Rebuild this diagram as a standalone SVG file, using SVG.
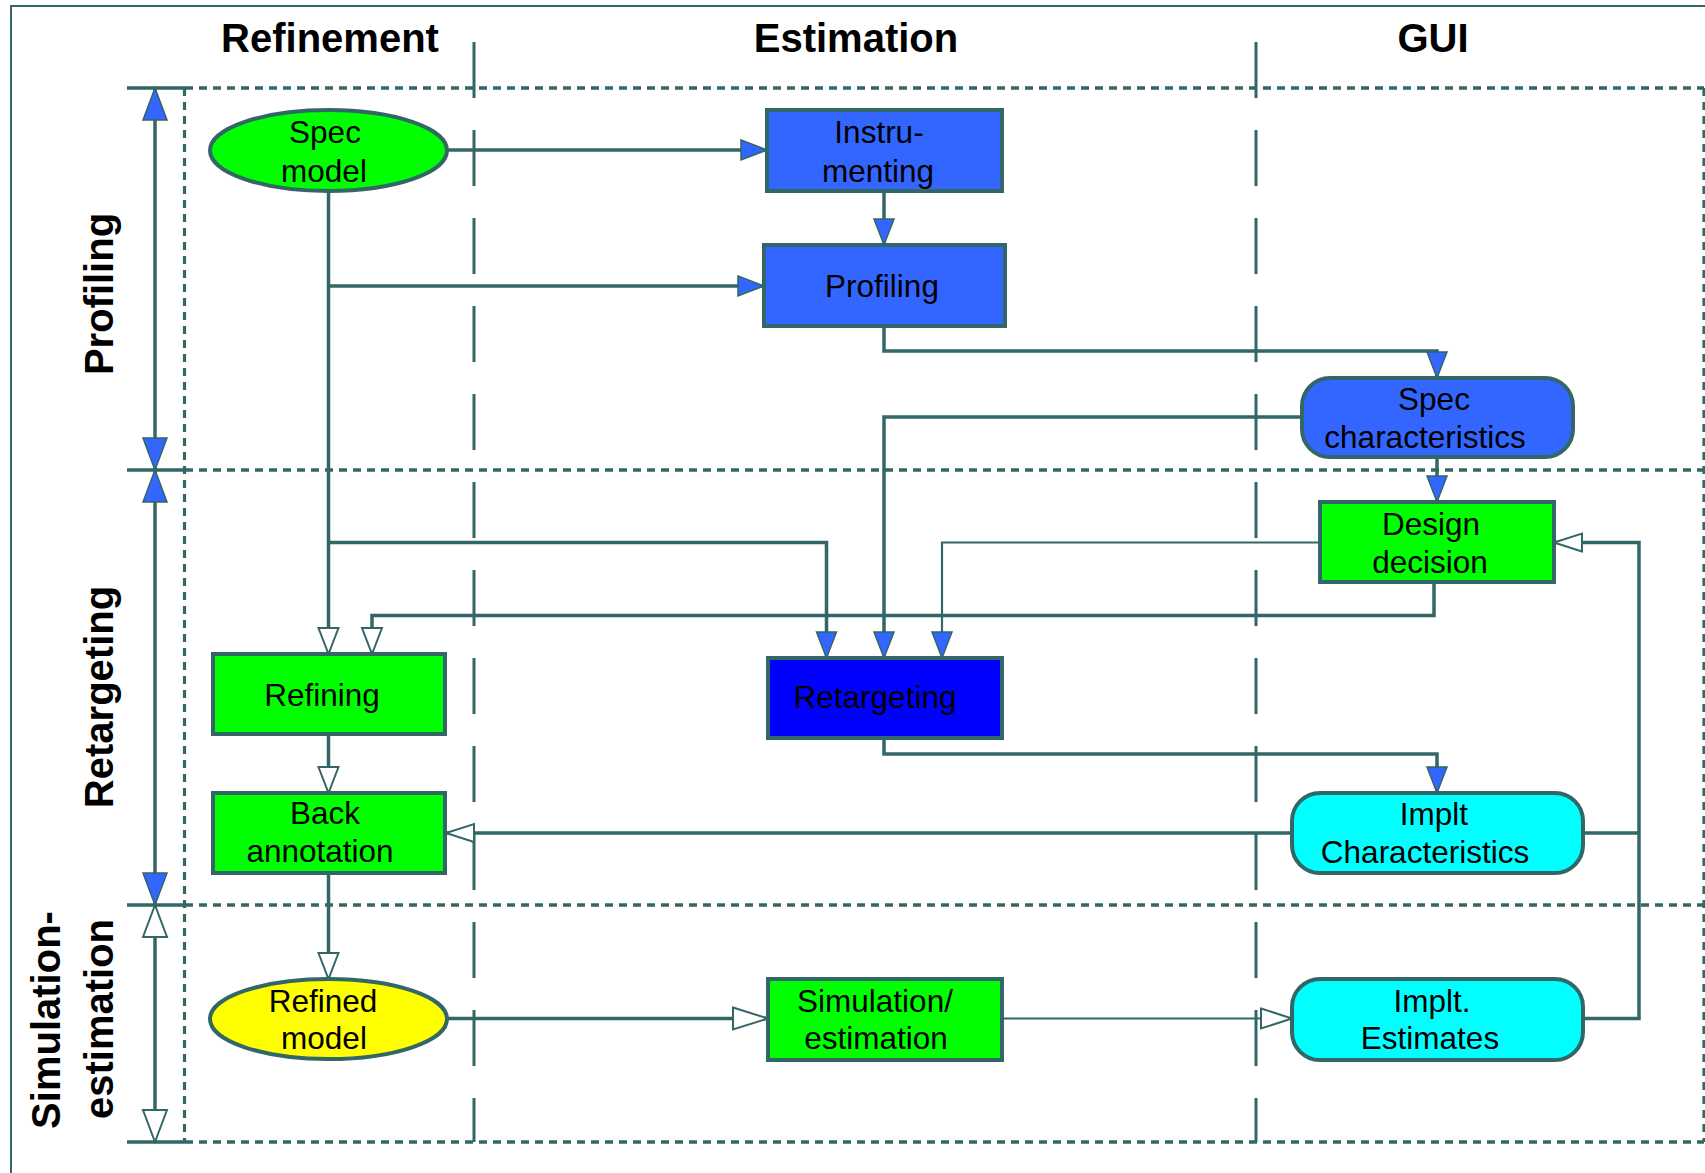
<svg xmlns="http://www.w3.org/2000/svg" width="1705" height="1173" viewBox="0 0 1705 1173">
<style>
.frame{fill:none;stroke:#336666;stroke-width:2}
.div{fill:none;stroke:#336666;stroke-width:3;stroke-dasharray:56 32}
.dot{fill:none;stroke:#336666;stroke-width:3.5;stroke-dasharray:8 6}
.dotv{fill:none;stroke:#336666;stroke-width:3.2;stroke-dasharray:8 6}
.tick{fill:none;stroke:#336666;stroke-width:3.5}
.hdr{font-family:"Liberation Sans",Arial,sans-serif;font-weight:bold;font-size:40px;fill:#000;text-anchor:middle}
.lbl{font-family:"Liberation Sans",Arial,sans-serif;font-size:31.5px;fill:#000;text-anchor:middle}
.node{stroke:#336666;stroke-width:4}
.blue{fill:#3366ff}.green{fill:#00ff00}.dblue{fill:#0000ff}.cyan{fill:#00ffff}.yellow{fill:#ffff00}
.c{fill:none;stroke:#336666;stroke-width:3.5}
.thin{fill:none;stroke:#336666;stroke-width:2.2}
.fa{fill:#3366ff;stroke:#336666;stroke-width:1.5}
.ha{fill:#ffffff;stroke:#336666;stroke-width:2}
</style>
<defs>
<marker id="mf" markerUnits="userSpaceOnUse" viewBox="-1 -1 28 22" refX="26" refY="10" markerWidth="28" markerHeight="22" orient="auto" overflow="visible"><path class="fa" d="M0,0 L26,10 L0,20 Z"/></marker>
<marker id="mh" markerUnits="userSpaceOnUse" viewBox="-1 -1 28 22" refX="26" refY="10" markerWidth="28" markerHeight="22" orient="auto" overflow="visible"><path class="ha" d="M0,0 L26,10 L0,20 Z"/></marker>
<marker id="mhs" markerUnits="userSpaceOnUse" viewBox="-1 -1 30 20" refX="28" refY="9" markerWidth="30" markerHeight="20" orient="auto" overflow="visible"><path class="ha" d="M0,0 L28,9 L0,18 Z"/></marker>
<marker id="mhl" markerUnits="userSpaceOnUse" viewBox="-1 -1 37 24" refX="35" refY="11" markerWidth="37" markerHeight="24" orient="auto" overflow="visible"><path class="ha" d="M0,0 L35,11 L0,22 Z"/></marker>
<marker id="mhm" markerUnits="userSpaceOnUse" viewBox="-1 -1 33 22" refX="31" refY="10" markerWidth="33" markerHeight="22" orient="auto" overflow="visible"><path class="ha" d="M0,0 L31,10 L0,20 Z"/></marker>
<marker id="vf" markerUnits="userSpaceOnUse" viewBox="-1 -1 34 26" refX="32" refY="12" markerWidth="34" markerHeight="26" orient="auto" overflow="visible"><path class="fa" d="M0,0 L32,12 L0,24 Z"/></marker>
<marker id="vh" markerUnits="userSpaceOnUse" viewBox="-1 -1 34 26" refX="32" refY="12" markerWidth="34" markerHeight="26" orient="auto" overflow="visible"><path class="ha" d="M0,0 L32,12 L0,24 Z"/></marker>
</defs>

<g id="frame">
<rect class="frame" x="11" y="6" width="1700" height="1172"/>
<text class="hdr" x="330" y="52">Refinement</text>
<text class="hdr" x="856" y="52">Estimation</text>
<text class="hdr" x="1433" y="52">GUI</text>
<line class="div" x1="474" y1="42" x2="474" y2="1142"/>
<line class="div" x1="1256" y1="42" x2="1256" y2="1142"/>
<line class="dot" x1="185" y1="88" x2="1704" y2="88"/>
<line class="dot" x1="185" y1="470" x2="1704" y2="470"/>
<line class="dot" x1="185" y1="905" x2="1704" y2="905"/>
<line class="dot" x1="185" y1="1142" x2="1704" y2="1142"/>
<line class="dotv" x1="184.5" y1="88" x2="184.5" y2="1142"/>
<line class="dotv" x1="1704" y1="88" x2="1704" y2="1142"/>
<line class="tick" x1="127" y1="88" x2="185" y2="88"/>
<line class="tick" x1="127" y1="470" x2="185" y2="470"/>
<line class="tick" x1="127" y1="905" x2="185" y2="905"/>
<line class="tick" x1="127" y1="1142" x2="185" y2="1142"/>
<path class="tick" d="M155,279 V88" marker-end="url(#vf)"/>
<path class="tick" d="M155,279 V470" marker-end="url(#vf)"/>
<path class="tick" d="M155,687 V470" marker-end="url(#vf)"/>
<path class="tick" d="M155,687 V905" marker-end="url(#vf)"/>
<path class="tick" d="M155,1023 V905" marker-end="url(#vh)"/>
<path class="tick" d="M155,1023 V1142" marker-end="url(#vh)"/>
<text class="hdr" transform="translate(113,294) rotate(-90)">Profiling</text>
<text class="hdr" transform="translate(113,697) rotate(-90)">Retargeting</text>
<text class="hdr" transform="translate(60,1020) rotate(-90)">Simulation-</text>
<text class="hdr" transform="translate(113,1019) rotate(-90)">estimation</text>
</g>

<g id="connectors">
<path class="c" d="M447,150 H767" marker-end="url(#mf)"/>
<path class="c" d="M884,191 V245" marker-end="url(#mf)"/>
<path class="c" d="M328.5,191 V654" marker-end="url(#mh)"/>
<path class="c" d="M328.5,286 H764" marker-end="url(#mf)"/>
<path class="c" d="M884,326 V351 H1437 V378" marker-end="url(#mf)"/>
<path class="c" d="M1302,417 H884 V658" marker-end="url(#mf)"/>
<path class="c" d="M1437,457 V502" marker-end="url(#mf)"/>
<path class="c" d="M328.5,542.5 H826.5 V658" marker-end="url(#mf)"/>
<path class="thin" d="M1320,542.5 H942 V658" marker-end="url(#mf)"/>
<path class="c" d="M1434,582.5 V615.5 H372 V654" marker-end="url(#mh)"/>
<path class="c" d="M328.5,734 V793" marker-end="url(#mh)"/>
<path class="c" d="M884,738 V754 H1437 V793" marker-end="url(#mf)"/>
<path class="c" d="M1292,833 H446" marker-end="url(#mhs)"/>
<path class="c" d="M328.5,873 V979" marker-end="url(#mh)"/>
<path class="c" d="M447,1018.5 H768" marker-end="url(#mhl)"/>
<path class="thin" d="M1002,1018.5 H1292" marker-end="url(#mhm)"/>
<path class="c" d="M1583,1018.5 H1639 V542.5 H1554" marker-end="url(#mhs)"/>
<path class="c" d="M1583,833 H1639"/>
</g>

<g id="spec-model">
<ellipse class="node green" cx="328.5" cy="150.5" rx="118.5" ry="40.5"/>
<text class="lbl" x="325" y="143">Spec</text>
<text class="lbl" x="324" y="182">model</text>
</g>
<g id="instrumenting">
<rect class="node blue" x="767" y="110" width="235" height="81"/>
<text class="lbl" x="879" y="143">Instru-</text>
<text class="lbl" x="878" y="182">menting</text>
</g>
<g id="profiling">
<rect class="node blue" x="764" y="245" width="241" height="81"/>
<text class="lbl" x="882" y="297">Profiling</text>
</g>
<g id="spec-characteristics">
<rect class="node blue" x="1302" y="378" width="271" height="79" rx="28" ry="28"/>
<text class="lbl" x="1434" y="410">Spec</text>
<text class="lbl" x="1425" y="448">characteristics</text>
</g>
<g id="design-decision">
<rect class="node green" x="1320" y="502" width="234" height="80"/>
<text class="lbl" x="1431" y="535">Design</text>
<text class="lbl" x="1430" y="573">decision</text>
</g>
<g id="refining">
<rect class="node green" x="213" y="654" width="232" height="80"/>
<text class="lbl" x="322" y="706">Refining</text>
</g>
<g id="retargeting">
<rect class="node dblue" x="768" y="658" width="234" height="80"/>
<text class="lbl" x="875" y="708">Retargeting</text>
</g>
<g id="back-annotation">
<rect class="node green" x="213" y="793" width="232" height="80"/>
<text class="lbl" x="325" y="824">Back</text>
<text class="lbl" x="320" y="862">annotation</text>
</g>
<g id="implt-characteristics">
<rect class="node cyan" x="1292" y="793" width="291" height="80" rx="28" ry="28"/>
<text class="lbl" x="1434" y="825">Implt</text>
<text class="lbl" x="1425" y="863">Characteristics</text>
</g>
<g id="refined-model">
<ellipse class="node yellow" cx="328.5" cy="1019" rx="118.5" ry="40"/>
<text class="lbl" x="323" y="1012">Refined</text>
<text class="lbl" x="324" y="1049">model</text>
</g>
<g id="simulation-estimation">
<rect class="node green" x="768" y="979" width="234" height="81"/>
<text class="lbl" x="875" y="1012">Simulation/</text>
<text class="lbl" x="876" y="1049">estimation</text>
</g>
<g id="implt-estimates">
<rect class="node cyan" x="1292" y="979" width="291" height="81" rx="28" ry="28"/>
<text class="lbl" x="1432" y="1012">Implt.</text>
<text class="lbl" x="1430" y="1049">Estimates</text>
</g>
</svg>
